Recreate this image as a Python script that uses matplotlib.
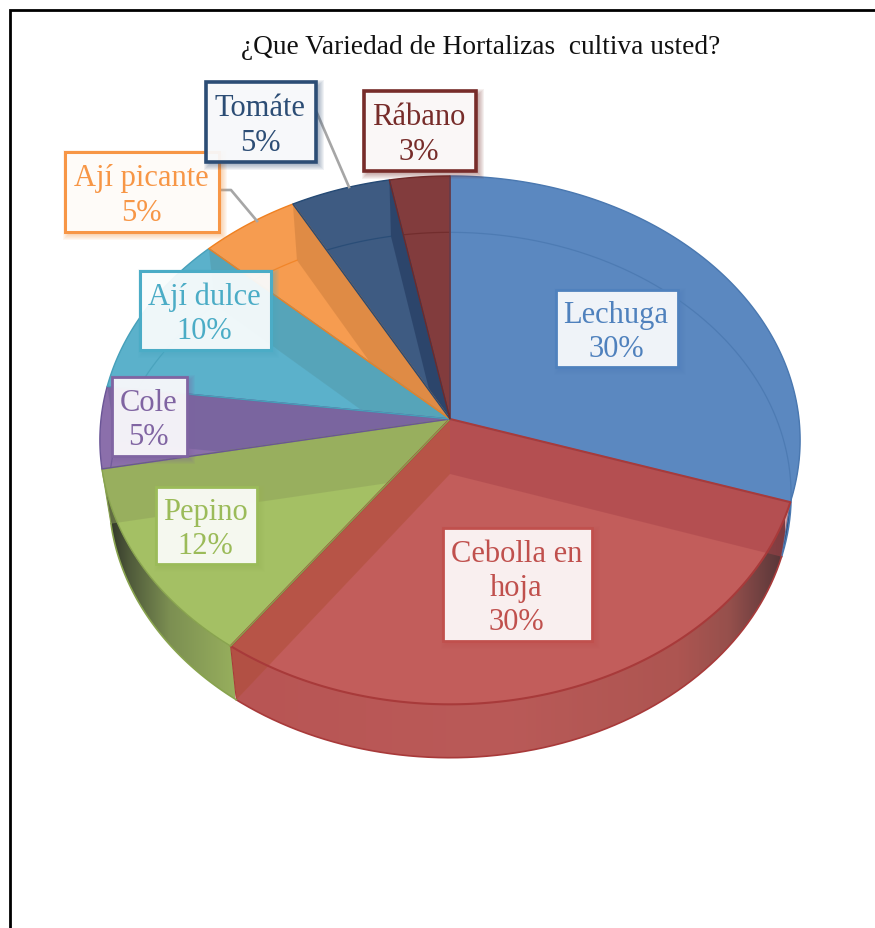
import numpy as np
import matplotlib
matplotlib.use("Agg")
import matplotlib.pyplot as plt
from matplotlib.colors import to_rgb
from matplotlib.patches import Polygon, Rectangle

# Survey shares, clockwise from twelve o'clock
categories = ["Lechuga", "Cebolla en\nhoja", "Pepino", "Cole", "Ají dulce", "Ají picante", "Tomáte", "Rábano"]
values = [30, 30, 12, 5, 10, 5, 5, 3]

face_colors = ["#5B88C0", "#C25D5B", "#A4C064", "#8B6FAB", "#5BB1CB", "#F69C50", "#3E5B82", "#823C3D"]
edge_colors = ["#4A78B0", "#A83A3A", "#88A34E", "#6A5596", "#46A0BA", "#F08020", "#254A75", "#6E2A2A"]
text_colors = ["#4F81BD", "#C0504D", "#9BBB59", "#8064A2", "#4BACC6", "#F79646", "#2C4D75", "#772C2A"]

# Label boxes: left, top, right, bottom in pixels
label_boxes = [
    (556, 291, 678, 368), (443, 529, 592, 642), (156, 488, 257, 565), (112, 378, 187, 457),
    (140, 272, 271, 351), (65, 153, 219, 233), (206, 83, 316, 163), (364, 92, 476, 172),
]
border_widths = [2, 2, 2, 2, 2.2, 2.2, 2.6, 2.6]

# Wall tint per wedge: (boundary index, colour). Boundary i is the edge after i wedges.
wall_tints = {
    1: [(1, "#A84349"), (2, "#AE4D35")],
    2: [(3, "#8EA05A")],
    3: [(4, "#6B5D95")],
    4: [(5, "#5399A9")],
    5: [(6, "#CA7C3C")],
    6: [(7, "#1C3156")],
}

# Shading of the outer side of the disc: x position and colour
side_shades = {
    0: ([775, 800], ["#2F4A70", "#2F4A70"]),
    1: ([230, 500, 680, 730, 785], ["#B85554", "#BA5A58", "#AD5551", "#96504C", "#553538"]),
    2: ([105, 130, 170, 235], ["#2B2E25", "#505B3B", "#7C8F52", "#97AF5D"]),
}

PERSPECTIVE = 0.08
TOP = dict(cx=450.0, cy=420.0, rx=349.0, ry=262.5)
BOTTOM = dict(cx=450.0, cy=475.0, rx=340.0, ry=261.0)


def rim(theta, disc):
    """Project azimuths (degrees, clockwise from north) on to a disc's rim."""
    t = np.radians(np.atleast_1d(theta))
    u, v = np.sin(t), np.cos(t)
    w = 1 + PERSPECTIVE * v
    return np.column_stack((disc["cx"] + disc["rx"] * u / w, disc["cy"] - disc["ry"] * v / w))


def apex(disc):
    return np.array([[disc["cx"], disc["cy"]]])


def sweep(a, b):
    return np.linspace(a, b, max(int(abs(b - a) * 2), 2))


fig = plt.figure(figsize=(8.75, 9.29), dpi=100)
ax = fig.add_axes([0, 0, 1, 1])
ax.axis("off")

bounds = np.concatenate(([0], np.cumsum(values))) / sum(values) * 360.0

# Outer side of the disc, nearest wedges only
for i, (stops, shades) in side_shades.items():
    a, b = bounds[i], bounds[i + 1]
    outline = np.vstack((rim(sweep(a, b), TOP), rim(sweep(b, a), BOTTOM)))
    clip = Polygon(outline, closed=True, transform=ax.transData)
    xs = np.linspace(stops[0], stops[-1], 256)
    rgb = np.array([to_rgb(c) for c in shades])
    gradient = np.stack([np.interp(xs, stops, rgb[:, k]) for k in range(3)], axis=-1)[None, :, :]
    ax.imshow(gradient, extent=(stops[0], stops[-1], 770, 400), aspect="auto",
              interpolation="bilinear", clip_path=clip, zorder=1)
    ax.plot(*rim(sweep(a, b), BOTTOM).T, color=edge_colors[i], lw=1.2, zorder=1.5)
    ax.plot(*np.vstack((rim(b, TOP), rim(b, BOTTOM))).T, color=edge_colors[i], lw=0.8, zorder=1.5)

# Top faces, see-through walls and edges
for i in range(len(values)):
    a, b = bounds[i], bounds[i + 1]
    top_arc = rim(sweep(a, b), TOP)
    top_face = np.vstack((apex(TOP), top_arc))
    ax.add_patch(Polygon(top_face, closed=True, fc=face_colors[i], ec="none", zorder=2))

    if i in side_shades and i > 0:
        region = np.vstack((apex(TOP), rim(a, TOP), rim(sweep(a, b), BOTTOM), rim(b, TOP)))
    else:
        region = top_face
    for boundary, tint in wall_tints.get(i, []):
        t = bounds[boundary]
        wall = np.vstack((apex(TOP), rim(t, TOP), rim(t, BOTTOM), apex(BOTTOM)))
        patch = Polygon(wall, closed=True, fc=tint, ec="none", alpha=0.5, zorder=3)
        ax.add_patch(patch)
        patch.set_clip_path(Polygon(region, closed=True, transform=ax.transData))

    back_arc, = ax.plot(*rim(sweep(a, b), BOTTOM).T, color=edge_colors[i], lw=0.9,
                        alpha=0.8, zorder=3.2)
    back_arc.set_clip_path(Polygon(top_face, closed=True, transform=ax.transData))

for i in range(len(values)):
    a, b = bounds[i], bounds[i + 1]
    top_face = np.vstack((apex(TOP), rim(sweep(a, b), TOP)))
    ax.add_patch(Polygon(top_face, closed=True, fc="none", ec=edge_colors[i],
                         lw=1.5 if i == 1 else 1.0, joinstyle="round", zorder=4))

# Leader lines from the outer labels to their wedges
ax.plot([317, 349], [114, 188], color="#A6A6A6", lw=1.9, zorder=4.5)
ax.plot([220, 231, 257], [191, 191, 222], color="#A6A6A6", lw=1.9, zorder=4.5)

# Data labels with a soft coloured shadow
percent_labels = [f"{v}%" for v in values]
for i, (name, pct) in enumerate(zip(categories, percent_labels)):
    x0, y0, x1, y1 = label_boxes[i]
    z = 5 + i * 0.1
    for grow in range(6):
        ax.add_patch(Rectangle((x0 + 3 - grow, y0 + 3 - grow), x1 - x0 + 2 * grow, y1 - y0 + 2 * grow,
                               fc=text_colors[i], ec="none", alpha=0.07, zorder=z))
    ax.add_patch(Rectangle((x0, y0), x1 - x0, y1 - y0, fc="white", alpha=0.91, ec="none", zorder=z + 0.01))
    ax.add_patch(Rectangle((x0, y0), x1 - x0, y1 - y0, fc="none", ec=text_colors[i],
                           lw=border_widths[i], zorder=z + 0.02))
    ax.text((x0 + x1) / 2 - 1, (y0 + y1) / 2 + 3, f"{name}\n{pct}", color=text_colors[i],
            family="Liberation Serif", fontsize=22, ha="center", va="center",
            linespacing=1.24, zorder=z + 0.03)

ax.text(481, 47, "¿Que Variedad de Hortalizas  cultiva usted?", family="Liberation Serif",
        fontsize=19.7, color="#111111", ha="center", va="center", zorder=6)

# Chart frame: only the top and left sides fall inside the canvas
ax.plot([10, 10, 875], [929, 11, 11], color="black", lw=2, solid_joinstyle="miter", zorder=7)

ax.set_xlim(0, 875)
ax.set_ylim(929, 0)
fig.savefig("out.png", dpi=100)
